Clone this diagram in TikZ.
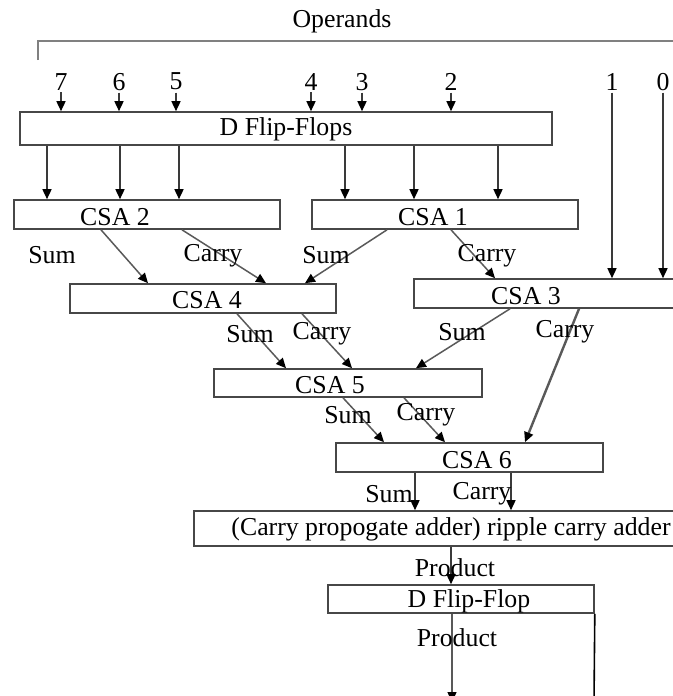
\documentclass[tikz,border=0pt]{standalone}
\usepackage{fontspec}
\setmainfont{Liberation Serif}
\usetikzlibrary{arrows.meta,positioning,calc}
\definecolor{wire}{HTML}{3A3A3A}
\definecolor{slant}{HTML}{595959}
\definecolor{rim}{HTML}{474747}
\tikzset{regbox/.style={draw=rim,line width=0.8pt,inner sep=0pt,minimum height=14.5pt},
  tag/.style={inner sep=1pt,yshift=-0.8pt,font=\fontsize{12.9}{15}\selectfont},
  arrow/.style={-{Triangle[length=5pt,width=4.5pt,color=black]},line width=0.75pt,draw=wire},
  slantarrow/.style={arrow,draw=slant}}

\begin{document}
\begin{tikzpicture}[x=0.5pt,y=-0.5pt]
\clip (0,0) rectangle (673,696);
\node[tag] (ops) at (342,20) {Operands};
\draw[draw=gray,line width=0.8pt] (38,60) -- (38,41) -- (680,41);
% registers and adders
\node[regbox,minimum width=266pt,minimum height=16.5pt] (dff) at (286,128.5) {};
\node[regbox,minimum width=133pt] (csa2) at (147,214.5) {};
\node[regbox,minimum width=133pt] (csa1) at (445,214.5) {};
\node[regbox,minimum width=133pt] (csa4) at (203,298.5) {};
\node[regbox,minimum width=143pt] (csa3) at (557,293.5) {};
\node[regbox,minimum width=134pt,minimum height=14pt] (csa5) at (348,383) {};
\node[regbox,minimum width=133.5pt] (csa6) at (469.5,457.5) {};
\node[regbox,minimum width=253pt,minimum height=17.5pt] (rca) at (447,528.5) {};
\node[regbox,minimum width=133pt,minimum height=14pt] (dff2) at (461,599) {};
\node[tag] (dfflab) at (286,128) {D Flip-Flops};
\node[tag] (csa2lab) at (115,215) {CSA 2};
\node[tag] (csa1lab) at (433,215) {CSA 1};
\node[tag] (csa4lab) at (207,298) {CSA 4};
\node[tag] (csa3lab) at (526,294) {CSA 3};
\node[tag] (csa5lab) at (330,383) {CSA 5};
\node[tag] (csa6lab) at (477,458) {CSA 6};
\node[tag] (rcalab) at (451,528) {(Carry propogate adder) ripple carry adder};
\node[tag] (dff2lab) at (469,600) {D Flip-Flop};
% operand bits
\foreach \n/\x in {7/61,6/119,5/176,4/311,3/362,2/451} {
  \node[tag] (b\n) at (\x,80) {\n};
  \draw[arrow] (b\n) -- (b\n |- dff.north);
}
\node[tag] (b1) at (612,80) {1};
\node[tag] (b0) at (663,80) {0};
\draw[arrow] (b1) -- (b1 |- csa3.north);
\draw[arrow] (b0) -- (b0 |- csa3.north);
\foreach \x in {47,120,179} \draw[arrow] (\x,0 |- dff.south) -- (\x,0 |- csa2.north);
\foreach \x in {345,414,498} \draw[arrow] (\x,0 |- dff.south) -- (\x,0 |- csa1.north);
% sum and carry paths
\draw[slantarrow] (101,0 |- csa2.south) -- (148,0 |- csa4.north);
\draw[slantarrow] (182,0 |- csa2.south) -- (266,0 |- csa4.north);
\draw[slantarrow] (387,0 |- csa1.south) -- (305,0 |- csa4.north);
\draw[slantarrow] (451,0 |- csa1.south) -- (495,0 |- csa3.north);
\draw[slantarrow] (237,0 |- csa4.south) -- (286,0 |- csa5.north);
\draw[slantarrow] (302,0 |- csa4.south) -- (352,0 |- csa5.north);
\draw[slantarrow] (510,0 |- csa3.south) -- (416,0 |- csa5.north);
\draw[slantarrow,line width=1.2pt] (579,0 |- csa3.south) -- (525,0 |- csa6.north);
\draw[slantarrow] (343,0 |- csa5.south) -- (384,0 |- csa6.north);
\draw[slantarrow] (404,0 |- csa5.south) -- (445,0 |- csa6.north);
\draw[arrow] (415,0 |- csa6.south) -- (415,0 |- rca.north);
\draw[arrow] (511,0 |- csa6.south) -- (511,0 |- rca.north);
\draw[arrow] (451,0 |- rca.south) -- (451,0 |- dff2.north);
\coordinate (out) at (452,702);
\coordinate (outr) at (594,702);
\draw[slantarrow] (out |- dff2.south) -- (out);
\draw[draw=black,line width=0.8pt] (dff2.south east) -- (outr);
% labels
\node[tag] (s2) at (52,253) {Sum};
\node[tag] (c2) at (213,254) {Carry};
\node[tag] (s1) at (326,253) {Sum};
\node[tag] (c1) at (487,254) {Carry};
\node[tag] (s4) at (250,332) {Sum};
\node[tag] (c4) at (322,332) {Carry};
\node[tag] (s3) at (462,330) {Sum};
\node[tag] (c3) at (565,330) {Carry};
\node[tag] (s5) at (348,413) {Sum};
\node[tag] (c5) at (426,413) {Carry};
\node[tag] (s6) at (389,492) {Sum};
\node[tag] (c6) at (482,492) {Carry};
\node[tag] (p1) at (455,566) {Product};
\node[tag] (p2) at (457,636) {Product};
\end{tikzpicture}
\end{document}
